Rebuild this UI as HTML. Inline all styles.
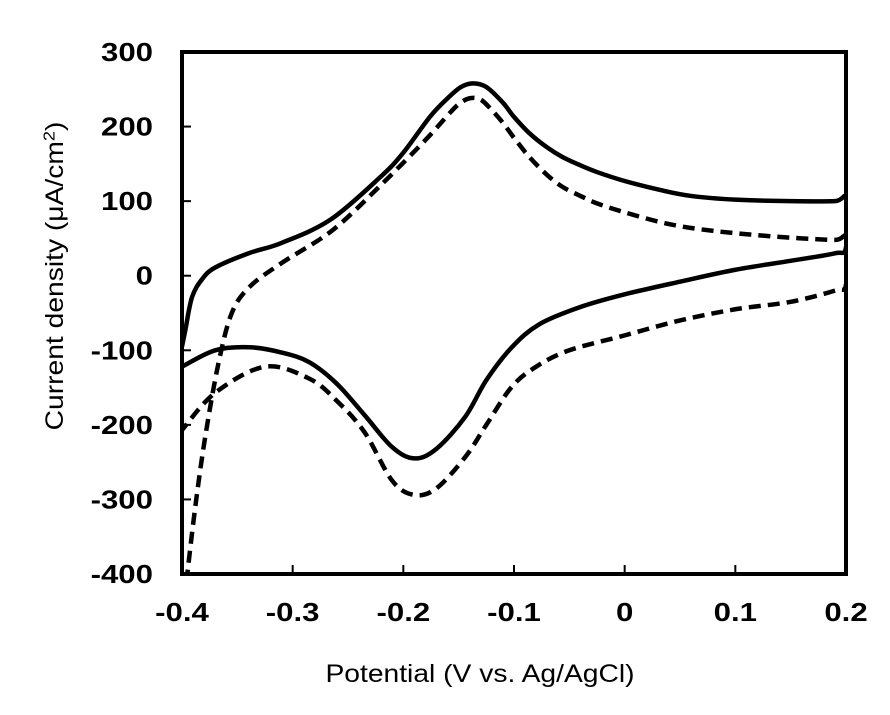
<!DOCTYPE html>
<html><head><meta charset="utf-8"><style>
body{margin:0;background:#fff;}
svg text{font-family:"Liberation Sans",Arial,sans-serif;}
</style></head><body>
<svg width="890" height="710">
<g id="axes"></g>
<g id="plot"></g>
<text transform="translate(480,682) scale(1.13,1)" text-anchor="middle" font-size="25">Potential (V vs. Ag/AgCl)</text>
<text transform="translate(63,276) rotate(-90) scale(1.13,1)" text-anchor="middle" font-size="25">Current density (μA/cm<tspan baseline-shift="super" font-size="16">2</tspan>)</text>
</svg>
<script>
const xTicks=[-0.4,-0.3,-0.2,-0.1,0,0.1,0.2];
const xTickLabels=["-0.4","-0.3","-0.2","-0.1","0","0.1","0.2"];
const yTicks=[-400,-300,-200,-100,0,100,200,300];
const yTickLabels=["-400","-300","-200","-100","0","100","200","300"];
const solidX=[-0.4,-0.397,-0.391,-0.382,-0.37,-0.34,-0.31,-0.266,-0.221,-0.2,-0.176,-0.16,-0.148,-0.137,-0.125,-0.11,-0.1,-0.086,-0.07,-0.056,-0.04,-0.025,0,0.032,0.06,0.1,0.15,0.19,0.2,0.2,0.19,0.15,0.1,0.05,0,-0.04,-0.077,-0.102,-0.125,-0.144,-0.17,-0.19,-0.21,-0.235,-0.26,-0.285,-0.31,-0.339,-0.37,-0.4];
const solidY=[-95,-73,-29,-5,11,30,44,75,132,165,213,238,253,258,253,232,213,191,172,159,148,139,127,115,107,102,100,100,103,38,30,20,8,-8,-25,-42,-65,-96,-140,-189,-232,-245,-230,-187,-145,-116,-103,-96,-100,-122];
const dashX=[-0.396,-0.388,-0.379,-0.367,-0.355,-0.339,-0.31,-0.264,-0.22,-0.18,-0.16,-0.15,-0.14,-0.13,-0.12,-0.11,-0.1,-0.086,-0.07,-0.056,-0.04,-0.025,0,0.032,0.06,0.1,0.15,0.19,0.2,0.2,0.19,0.15,0.1,0.05,0,-0.05,-0.08,-0.102,-0.125,-0.144,-0.17,-0.19,-0.21,-0.235,-0.26,-0.285,-0.325,-0.37,-0.4];
const dashY=[-410,-310,-216,-117,-50,-15,17,61,122,182,215,230,238,236,222,205,185,159,135,119,107,97,85,72,64,57,51,48,50,-12,-20,-35,-45,-60,-80,-100,-122,-149,-200,-243,-285,-294,-275,-210,-168,-138,-122,-157,-207];
const L=182,R=846,T=52,B=574;
const sx=v=>L+(v+0.4)/0.6*(R-L);
const sy=v=>T+(300-v)/700*(B-T);
const NS="http://www.w3.org/2000/svg";
function mk(t,a,p){const e=document.createElementNS(NS,t);for(const k in a)e.setAttribute(k,a[k]);p.appendChild(e);return e;}
const ax=document.getElementById('axes'),pl=document.getElementById('plot');
const fr=mk('rect',{x:L,y:T,width:R-L,height:B-T,fill:'none',stroke:'#000','stroke-width':4},ax);


xTicks.forEach((v,i)=>{
 const t=mk('line',{x1:sx(v),x2:sx(v),y1:B,y2:B-9,stroke:'#000','stroke-width':2},ax);
 
 
 const l=mk('text',{transform:`translate(${sx(v)},${B+47}) scale(1.2,1)`,'text-anchor':'middle','font-size':26,'font-weight':'bold'},ax);l.textContent=xTickLabels[i];
 
 
});
yTicks.forEach((v,i)=>{
 const t=mk('line',{x1:L,x2:L+9,y1:sy(v),y2:sy(v),stroke:'#000','stroke-width':2},ax);
 
 
 const l=mk('text',{transform:`translate(${L-29},${sy(v)+9}) scale(1.2,1)`,'text-anchor':'end','font-size':26,'font-weight':'bold'},ax);l.textContent=yTickLabels[i];
 
 
});
function path(xs,ys){
 const p=xs.map((x,i)=>[sx(x),sy(ys[i])]);
 let d='M'+p[0][0]+','+p[0][1];
 for(let i=0;i<p.length-1;i++){
  const p0=p[i-1]||p[i],p1=p[i],p2=p[i+1],p3=p[i+2]||p2;
  const c1=[p1[0]+(p2[0]-p0[0])/6,p1[1]+(p2[1]-p0[1])/6];
  const c2=[p2[0]-(p3[0]-p1[0])/6,p2[1]-(p3[1]-p1[1])/6];
  d+=`C${c1[0]},${c1[1]} ${c2[0]},${c2[1]} ${p2[0]},${p2[1]}`;
 }
 return d;
}
const cp=mk('clipPath',{id:'clip'},pl);mk('rect',{x:L,y:T,width:R-L,height:B-T},cp);
const s=mk('path',{d:path(solidX,solidY),fill:'none',stroke:'#000','stroke-width':4.5,'clip-path':'url(#clip)','stroke-linejoin':'round'},pl);


const d=mk('path',{d:path(dashX,dashY),fill:'none',stroke:'#000','stroke-width':4.5,'stroke-dasharray':'12 7','clip-path':'url(#clip)','stroke-linejoin':'round'},pl);


</script>
</body></html>
